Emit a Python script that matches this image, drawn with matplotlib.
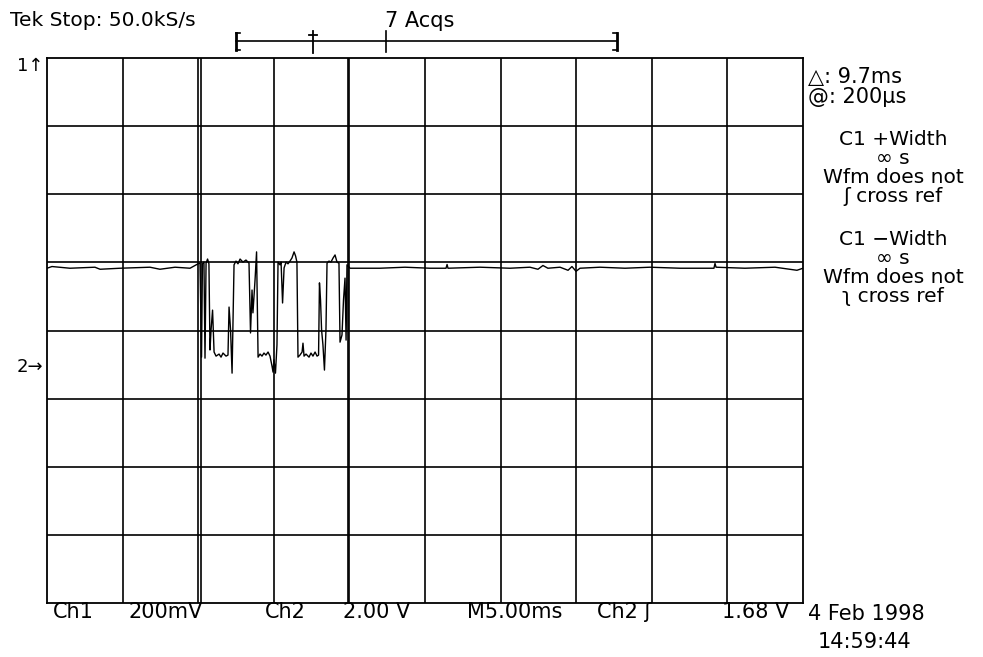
import numpy as np
import matplotlib
matplotlib.use("Agg")
import matplotlib.pyplot as plt
from matplotlib.lines import Line2D

# ---------------- data (Ch2 trace) ----------------
time_ms = [
    0.00, 0.33, 1.52, 3.17, 3.51, 4.83, 6.81, 7.47, 8.47, 9.46, 9.99,
    10.12, 10.22, 10.28, 10.38, 10.45, 10.52, 10.62, 10.71, 10.78, 10.85,
    10.95, 11.05, 11.18, 11.38, 11.51, 11.64, 11.84, 11.97, 12.04, 12.14,
    12.24, 12.37, 12.50, 12.63, 12.77, 12.96, 13.16, 13.36, 13.46, 13.56,
    13.62, 13.76, 13.86, 13.96, 14.09, 14.22, 14.35, 14.48, 14.62, 14.75,
    14.88, 14.95, 15.01, 15.11, 15.21, 15.28, 15.41, 15.48, 15.58, 15.68,
    15.81, 15.94, 16.07, 16.20, 16.34, 16.44, 16.53, 16.60, 16.73, 16.87,
    16.93, 17.00, 17.13, 17.33, 17.46, 17.59, 17.73, 17.86, 17.96, 18.02,
    18.09, 18.16, 18.25, 18.35, 18.45, 18.52, 18.65, 18.78, 18.92, 19.05,
    19.18, 19.31, 19.38, 19.51, 19.61, 19.71, 19.78, 19.84,
    20.04, 22.02, 23.68, 25.33, 26.39, 26.46, 26.52, 28.64, 30.62, 31.94,
    32.47, 32.80, 33.13, 33.93, 34.46, 34.72, 34.99, 35.25, 36.57, 38.23,
    39.88, 41.87, 44.11, 44.18, 44.25, 46.16, 48.15, 49.60, 50.00,
]
volts = [
    2.90, 2.95, 2.90, 2.93, 2.87, 2.90, 2.93, 2.87, 2.93, 2.90, 3.03,
    3.05, 0.29, 3.03, 3.08, 0.26, 3.05, 3.17, 3.03, 0.50, 1.09,
    1.67, 0.44, 0.32, 0.38, 0.29, 0.41, 0.32, 0.35, 1.76, 1.09,
    -0.18, 3.00, 3.11, 3.03, 3.17, 3.08, 3.14, 3.05, 1.00, 2.26,
    1.59, 2.56, 3.38, 0.29, 0.38, 0.32, 0.41, 0.35, 0.44, 0.32,
    0.03, -0.15, 0.21, -0.18, 0.65, 3.08, 3.00, 3.08, 1.88, 2.91,
    3.08, 3.03, 3.11, 3.20, 3.38, 3.26, 3.08, 0.29, 0.35, 0.44,
    0.70, 0.32, 0.38, 0.29, 0.41, 0.32, 0.44, 0.32, 0.35, 2.47,
    1.97, 1.09, 0.65, -0.09, 1.09, 3.05, 3.11, 3.08, 3.20, 3.29,
    3.08, 3.05, 0.73, 0.94, 1.97, 2.61, 0.79, 3.00,
    2.90, 2.90, 2.93, 2.90, 2.90, 3.01, 2.90, 2.93, 2.90, 2.93,
    2.87, 2.98, 2.90, 2.93, 2.84, 2.95, 2.81, 2.90, 2.93, 2.90,
    2.93, 2.90, 2.90, 3.04, 2.93, 2.90, 2.93, 2.84, 2.90,
]

cursor_ms = [10.19, 19.89]
time_per_div = 5.0
volt_per_div = 2.0
ch2_offset_div = -0.536
n_xdiv, n_ydiv = 10, 8

top_left_text = "Tek Stop: 50.0kS/s"
top_mid_text = "7 Acqs"
readout_left = ["\u25b3: 9.7ms", "@: 200\u00b5s"]
readout_plus = ["C1 +Width", "\u221e s", "Wfm does not", "\u0283 cross ref"]
readout_minus = ["C1 \u2212Width", "\u221e s", "Wfm does not", "\u0285 cross ref"]
bottom_labels = ["Ch1", "200mV", "Ch2", "2.00 V", "M5.00ms", "Ch2 \u0283", "1.68 V"]

# ---------------- figure ----------------
W, H = 983, 657
fig = plt.figure(figsize=(W / 100, H / 100), dpi=100)
fig.patch.set_facecolor("white")


def fx(px):
    return px / W


def fy(py):
    return 1 - py / H


ax = fig.add_axes([fx(47), fy(603), fx(803) - fx(47), fy(58) - fy(603)])
xmax = n_xdiv * time_per_div
ylo = (-n_ydiv / 2 - ch2_offset_div) * volt_per_div
yhi = (n_ydiv / 2 - ch2_offset_div) * volt_per_div
ax.set_xlim(0, xmax)
ax.set_ylim(ylo, yhi)
for k in range(1, n_xdiv):
    ax.axvline(k * time_per_div, color="k", lw=1.2)
for k in range(1, n_ydiv):
    ax.axhline(ylo + k * volt_per_div, color="k", lw=1.2)
for c in cursor_ms:
    ax.axvline(c, color="k", lw=1.2)
ax.plot(time_ms, volts, color="k", lw=1.0)
ax.set_xticks([])
ax.set_yticks([])
for s in ax.spines.values():
    s.set_linewidth(1.3)
    s.set_color("k")

fam = ["DejaVu Sans"]


def ftext(px, py, s, fs, **kw):
    kw.setdefault("family", fam)
    kw.setdefault("va", "center")
    fig.text(fx(px), fy(py), s, fontsize=fs, **kw)


def fline(xs, ys, lw=1.2):
    fig.add_artist(Line2D([fx(v) for v in xs], [fy(v) for v in ys],
                          color="k", lw=lw, transform=fig.transFigure))


# top header
ftext(10, 21, top_left_text, 14.5)
ftext(385, 21, top_mid_text, 15)
fline([236, 617], [41, 41])
fline([236, 236], [33, 50], lw=2.0)
fline([236, 240], [33, 33])
fline([236, 240], [50, 50])
fline([617, 617], [33, 50], lw=2.0)
fline([613, 617], [33, 33])
fline([613, 617], [50, 50])
fline([313, 313], [31, 53], lw=1.3)
fline([309, 317], [35, 35], lw=1.3)
fline([386, 386], [31, 52], lw=1.2)

# left channel markers
ftext(17, 66, "1\u2191", 13)
ftext(17, 367, "2\u2192", 13)

# right readouts
ftext(808, 77, readout_left[0], 15)
ftext(808, 97, readout_left[1], 15)
ftext(893, 130, "\n".join(readout_plus), 14.5, ha="center", va="top",
      multialignment="center", linespacing=1.0)
ftext(893, 230, "\n".join(readout_minus), 14.5, ha="center", va="top",
      multialignment="center", linespacing=1.0)

# bottom readouts
bottom_x = [53, 128, 265, 343, 467, 597, 722]
for s, xx in zip(bottom_labels, bottom_x):
    ftext(xx, 612, s, 15)
ftext(808, 614, "4 Feb 1998", 15)
ftext(818, 642, "14:59:44", 15)

fig.savefig("out.png", dpi=100, facecolor="white")
